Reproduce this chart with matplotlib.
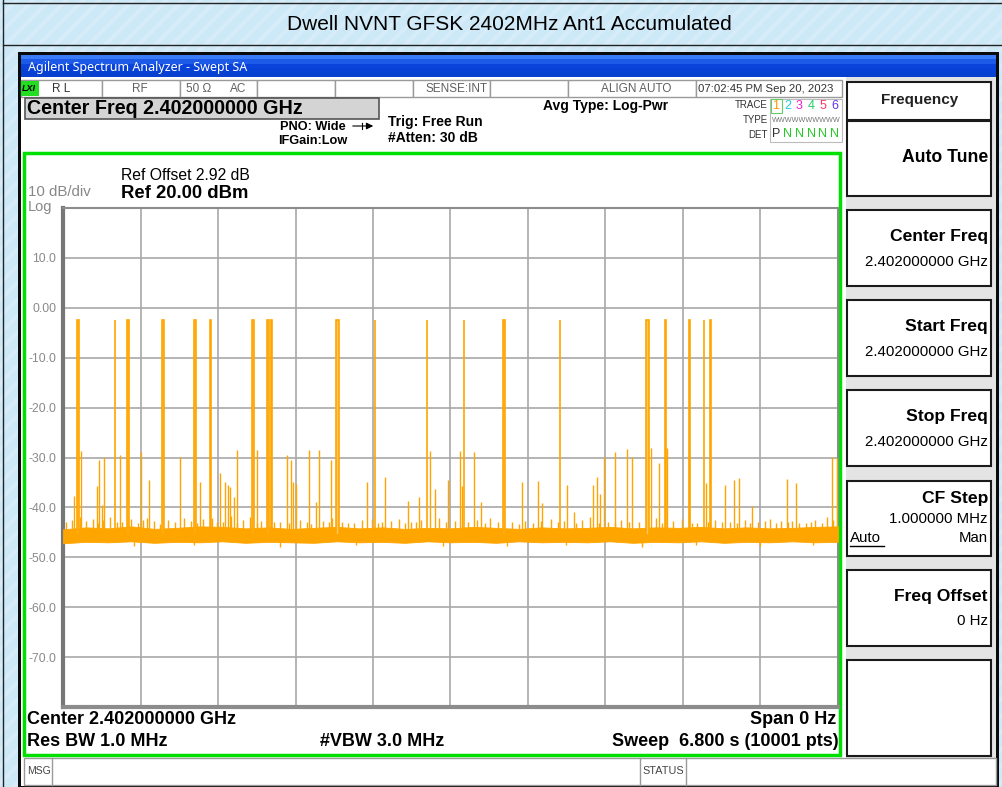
import numpy as np
import matplotlib
matplotlib.use('Agg')
import matplotlib.pyplot as plt
from matplotlib.patches import Rectangle

# zero span trace, time axis in seconds, level in dBm
sweep_time = 6.8
ref_level = 20
y_bottom = -80
ytick_vals = [10, 0, -10, -20, -30, -40, -50, -60, -70]
ytick_text = ['10.0', '0.00', '-10.0', '-20.0', '-30.0', '-40.0', '-50.0', '-60.0', '-70.0']

# full power bursts (start, end, level)
pulse_start = [0.125, 0.452, 0.564, 0.872, 1.147, 1.289, 1.656, 1.787, 1.828, 2.395,
               2.734, 3.190, 3.515, 3.861, 4.357, 5.115, 5.281, 5.495, 5.620, 5.679]
pulse_end = [0.143, 0.459, 0.582, 0.883, 1.164, 1.296, 1.679, 1.805, 1.835, 2.419,
             2.741, 3.197, 3.522, 3.881, 4.364, 5.144, 5.288, 5.502, 5.627, 5.686]
pulse_level = [-2.5, -2.5, -2.5, -2.5, -2.5, -2.5, -2.5, -2.5, -2.5, -2.5,
               -2.5, -2.5, -2.5, -2.5, -2.5, -2.5, -2.5, -2.5, -2.5, -2.5]

# weaker single spikes
spike_t = [0.099, 0.158, 0.301, 0.313, 0.345, 0.357, 0.500, 0.682, 0.757, 1.024,
           1.199, 1.380, 1.421, 1.448, 1.465, 1.500, 1.527, 1.702, 1.822, 1.963,
           2.003, 2.021, 2.044, 2.161, 2.220, 2.246, 2.349, 2.665, 2.825, 3.024,
           3.126, 3.220, 3.264, 3.381, 3.483, 3.498, 3.606, 3.665, 4.025, 4.165,
           4.205, 4.425, 4.484, 4.648, 4.683, 4.709, 4.747, 4.846, 4.949, 4.990,
           5.159, 5.227, 5.302, 5.490, 5.644, 5.806, 5.885, 5.929, 6.043, 6.350,
           6.429, 6.745, 6.789]
spike_level = [-37.7, -28.7, -35.7, -30.5, -39.5, -29.8, -29.4, -28.8, -34.5, -29.8,
               -34.9, -33.2, -35.0, -35.5, -36.0, -38.0, -28.4, -28.4, -35.4, -29.4,
               -30.5, -34.9, -35.3, -28.4, -39.0, -28.4, -30.5, -34.9, -33.9, -38.8,
               -38.0, -28.7, -36.4, -34.6, -28.6, -35.7, -28.8, -39.0, -34.9, -34.8,
               -39.2, -35.5, -41.0, -35.5, -33.9, -37.4, -29.8, -28.8, -28.2, -29.8,
               -28.0, -31.1, -28.0, -29.4, -35.1, -35.5, -34.6, -34.2, -39.8, -34.4,
               -35.2, -29.8, -30.0]

# noise floor envelope
floor_t = [0.0, 0.2, 0.4, 0.6, 0.8, 1.0, 1.2, 1.4, 1.6, 1.8, 2.0, 2.2, 2.4, 2.6, 2.8,
           3.0, 3.2, 3.4, 3.6, 3.8, 4.0, 4.2, 4.4, 4.6, 4.8, 5.0, 5.2, 5.4, 5.6, 5.8,
           6.0, 6.2, 6.4, 6.6, 6.8]
floor_top = [-44.4, -44.0, -44.2, -43.8, -44.3, -44.1, -43.8, -43.9, -44.2, -44.0,
             -44.3, -44.1, -43.9, -44.2, -44.0, -44.3, -44.1, -44.2, -43.9, -44.1,
             -44.3, -44.0, -44.2, -44.1, -43.9, -44.2, -44.0, -44.1, -43.9, -44.2,
             -44.0, -44.2, -44.1, -43.9, -43.8]
floor_bot = [-47.2, -46.9, -47.0, -46.8, -47.1, -46.9, -47.0, -46.8, -47.1, -46.9,
             -47.0, -47.1, -46.8, -47.0, -46.9, -47.1, -46.8, -47.0, -46.9, -47.1,
             -46.8, -47.0, -46.9, -47.0, -46.8, -47.1, -46.9, -47.0, -46.8, -47.1,
             -46.9, -47.0, -46.8, -47.0, -46.9]

# small bristles on the floor
bump_t = [0.03, 0.08, 0.15, 0.20, 0.26, 0.31, 0.35, 0.41, 0.47, 0.52, 0.60, 0.66,
          0.70, 0.74, 0.80, 0.85, 0.92, 0.98, 1.06, 1.12, 1.18, 1.23, 1.31, 1.35,
          1.40, 1.47, 1.53, 1.58, 1.64, 1.70, 1.74, 1.85, 1.90, 1.98, 2.08, 2.14,
          2.18, 2.28, 2.33, 2.36, 2.45, 2.50, 2.55, 2.62, 2.71, 2.76, 2.80, 2.88,
          2.95, 3.00, 3.05, 3.10, 3.14, 3.30, 3.36, 3.44, 3.55, 3.63, 3.70, 3.75,
          3.82, 3.94, 4.00, 4.05, 4.12, 4.19, 4.28, 4.34, 4.40, 4.50, 4.55, 4.62,
          4.70, 4.78, 4.84, 4.90, 4.97, 5.05, 5.12, 5.20, 5.26, 5.35, 5.43, 5.52,
          5.56, 5.66, 5.72, 5.78, 5.85, 5.91, 5.98, 6.03, 6.10, 6.16, 6.20, 6.26,
          6.30, 6.36, 6.40, 6.46, 6.52, 6.56, 6.60, 6.66, 6.70, 6.76]
bump_level = [-43.0, -42.5, -42.0, -42.8, -42.3, -43.2, -42.6, -42.0, -43.0, -42.9,
              -42.4, -43.1, -42.6, -42.2, -42.7, -43.3, -42.5, -43.0, -42.1, -42.8,
              -43.2, -42.4, -42.2, -43.0, -42.9, -41.8, -43.1, -42.6, -42.0, -43.2,
              -42.7, -42.9, -43.0, -43.2, -42.5, -43.0, -43.3, -42.8, -43.0, -42.2,
              -42.9, -43.2, -43.1, -42.6, -42.4, -43.1, -43.0, -42.7, -42.3, -43.2,
              -42.9, -43.0, -42.5, -42.2, -43.0, -42.8, -43.0, -42.6, -43.2, -42.1,
              -43.0, -42.9, -43.3, -42.7, -43.1, -42.8, -42.4, -43.0, -42.8, -43.2,
              -42.5, -42.0, -43.1, -42.9, -43.2, -42.6, -43.0, -43.0, -42.7, -42.2,
              -43.1, -42.8, -42.4, -43.2, -43.1, -42.9, -42.5, -43.0, -42.9, -43.1,
              -42.6, -43.2, -43.0, -42.7, -42.3, -43.1, -42.8, -43.0, -42.7, -43.2,
              -43.2, -42.9, -42.5, -43.1, -42.0, -42.6]
dip_t = [0.62, 1.15, 1.90, 2.57, 3.33, 3.90, 4.41, 5.08, 5.55, 6.12, 6.58]
dip_level = [-47.8, -47.6, -47.9, -47.5, -47.7, -47.8, -47.6, -47.9, -47.5, -47.7, -47.6]

trace_color = '#ffa500'
plt.rcParams['font.family'] = ['Liberation Sans', 'DejaVu Sans']
plt.rcParams['hatch.linewidth'] = 3

fig = plt.figure(figsize=(10.03, 7.87), dpi=100)
bg = fig.add_axes([0, 0, 1, 1])
bg.set_xlim(0, 1003)
bg.set_ylim(787, 0)
bg.axis('off')


def box(x0, y0, x1, y1, fc='white', ec='none', lw=1, z=1, **kw):
    bg.add_patch(Rectangle((x0, y0), x1 - x0, y1 - y0, facecolor=fc, edgecolor=ec,
                           linewidth=lw, zorder=z, **kw))


def txt(x, y, s, size=9, ha='left', color='black', weight='normal', z=5, **kw):
    bg.text(x, y, s, fontsize=size, ha=ha, va='center', color=color,
            fontweight=weight, zorder=z, **kw)


# page background
box(0, 0, 1003, 787, fc='#cde8f6', ec='#d6edf9', lw=0, z=0, hatch='//')
bg.plot([3, 3], [0, 787], color='#222222', lw=1, zorder=1)
bg.plot([3, 1003], [3, 3], color='#222222', lw=1, zorder=1)
bg.plot([3, 1003], [45, 45], color='#222222', lw=1, zorder=1)
txt(509, 24, 'Dwell NVNT GFSK 2402MHz Ant1 Accumulated', size=15, ha='center')

# analyzer window
box(18, 52, 999, 787, fc='#0a0a0a', z=1)
grad = np.array([[0.0], [0.3], [0.6], [0.8], [1.0]])
bg.imshow(grad, cmap=matplotlib.colors.LinearSegmentedColormap.from_list(
    'bar', ['#3a7cf7', '#0a44de', '#0840d0']), extent=(21, 996, 77, 55),
    aspect='auto', zorder=2)
txt(28, 67, 'Agilent Spectrum Analyzer - Swept SA', size=9, color='white', family='Noto Sans')
box(21, 77, 846, 786, fc='white', z=2)
box(846, 77, 996, 786, fc='#e4e4e4', z=2)

# status row
cells = [21, 102, 180, 257, 335, 413, 490, 568, 696, 842]
for a, b in zip(cells[:-1], cells[1:]):
    box(a, 80, b, 97, fc='white', ec='#9a9a9a', lw=1, z=3)
box(21, 81, 39, 96, fc='#22dd22', z=4)
txt(21.5, 88.5, 'LXI', size=6.5, weight='bold', style='italic')
gray = '#606060'
txt(52, 88.5, 'R L', size=8.5, color='#333333')
txt(140, 88.5, 'RF', size=8.5, color=gray, ha='center')
txt(186, 88.5, '50 Ω', size=8.5, color=gray)
txt(230, 88.5, 'AC', size=8.5, color=gray)
txt(488, 88.5, 'SENSE:INT', size=8.5, color=gray, ha='right')
txt(636, 88.5, 'ALIGN AUTO', size=8.5, color=gray, ha='center')
txt(698, 88.5, '07:02:45 PM Sep 20, 2023', size=8.2, color='#333333')

# center freq header
box(25, 98, 379, 119, fc='#d4d4d4', ec='#555555', lw=1.2, z=3)
txt(27, 108.5, 'Center Freq 2.402000000 GHz', size=14.2, weight='bold')
txt(280, 127, 'PNO: Wide', size=9.2, weight='bold')
bg.annotate('', xy=(376, 126), xytext=(350, 126),
            arrowprops=dict(arrowstyle='-|>', color='black', lw=0.8), zorder=5)
bg.plot([362, 362], [123, 129], color='black', lw=0.8, zorder=5)
txt(278, 141, 'IFGain:Low', size=9.2, weight='bold')
txt(388, 122, 'Trig: Free Run', size=10, weight='bold')
txt(388, 138, '#Atten: 30 dB', size=10, weight='bold')
txt(543, 106, 'Avg Type: Log-Pwr', size=10, weight='bold')

# trace legend block
txt(768, 105, 'TRACE', size=7, color='#333333', ha='right')
txt(768, 120, 'TYPE', size=7, color='#333333', ha='right')
txt(768, 135, 'DET', size=7, color='#333333', ha='right')
box(770, 99, 842, 142, fc='white', ec='#bbbbbb', lw=0.8, z=3)
box(771, 99, 782, 113, fc='none', ec='#66cc66', lw=0.8, z=4)
trace_cols = ['#ff9900', '#22ccdd', '#ee22cc', '#22cc66', '#ff3366', '#6633ee']
for i, c in enumerate(trace_cols):
    txt(776 + i * 11.7, 106, str(i + 1), size=9, color=c, ha='center')
txt(772, 120, 'W' + 'W' * 9, size=5.2, color='#777777')
txt(776, 134, 'P', size=9, color='#333333', ha='center')
for i in range(1, 6):
    txt(776 + i * 11.7, 134, 'N', size=9, color='#22cc22', ha='center')

# graticule region
box(24, 153, 840, 755, fc='white', ec='#00e000', lw=2.5, z=3)
txt(121, 176, 'Ref Offset 2.92 dB', size=11.3)
txt(121, 193, 'Ref 20.00 dBm', size=13.3, weight='bold')
txt(28, 192, '10 dB/div', size=10.8, color='#888888')
txt(28, 207, 'Log', size=10.5, color='#888888')

txt(27, 719, 'Center 2.402000000 GHz', size=13, weight='bold')
txt(836, 719, 'Span 0 Hz', size=13, weight='bold', ha='right')
txt(27, 741, 'Res BW 1.0 MHz', size=13, weight='bold')
txt(320, 741, '#VBW 3.0 MHz', size=13, weight='bold')
txt(839, 741, 'Sweep  6.800 s (10001 pts)', size=13, weight='bold', ha='right')

# msg row
box(24, 758, 996, 785, fc='white', ec='#9a9a9a', lw=1, z=3)
bg.plot([52, 52], [758, 785], color='#9a9a9a', lw=1, zorder=4)
bg.plot([640, 640], [758, 785], color='#9a9a9a', lw=1, zorder=4)
bg.plot([686, 686], [758, 785], color='#9a9a9a', lw=1, zorder=4)
txt(27, 771, 'MSG', size=7.5, color='#444444')
txt(642, 771, 'STATUS', size=7.8, color='#444444')

# softkey panel
keys = [(82, 120), (121, 196), (210, 286), (300, 376), (390, 466), (481, 556), (570, 646), (660, 756)]
for y0, y1 in keys:
    box(847, y0, 991, y1, fc='white', ec='#1a1a1a', lw=1.5, z=3)
txt(920, 100, 'Frequency', size=11, weight='bold', ha='center', color='#222222')
txt(988, 158, 'Auto Tune', size=12.7, weight='bold', ha='right')
key_titles = ['Center Freq', 'Start Freq', 'Stop Freq']
for (y0, y1), name in zip(keys[2:5], key_titles):
    txt(988, y0 + 27, name, size=12.6, weight='bold', ha='right')
    txt(988, y0 + 52, '2.402000000 GHz', size=10.8, ha='right')
txt(988, 499, 'CF Step', size=12.6, weight='bold', ha='right')
txt(988, 519, '1.000000 MHz', size=10.8, ha='right')
txt(850, 538, 'Auto', size=10.8)
bg.plot([850, 884], [546, 546], color='black', lw=1, zorder=5)
txt(988, 538, 'Man', size=10.8, ha='right')
txt(988, 596, 'Freq Offset', size=12.6, weight='bold', ha='right')
txt(988, 621, '0 Hz', size=10.8, ha='right')

# trace axes
ax = fig.add_axes([63 / 1003, 1 - 707 / 787, 775 / 1003, 499 / 787])
ax.set_zorder(6)
ax.set_xlim(0, sweep_time)
ax.set_ylim(y_bottom, ref_level)
ax.set_xticks(np.linspace(0, sweep_time, 11))
ax.set_xticklabels([])
ax.set_yticks(ytick_vals)
ax.set_yticklabels(ytick_text)
ax.tick_params(length=0, labelsize=8.8, labelcolor='#8a8a8a', pad=5)
ax.grid(True, color='#a8a8a8', lw=1.2)
ax.set_axisbelow(True)
for s in ax.spines.values():
    s.set_color('#8c8c8c')
    s.set_linewidth(1.5)
ax.spines['left'].set_linewidth(3)
ax.spines['bottom'].set_linewidth(3)
ax.spines['left'].set_color('#777777')

ax.fill_between(floor_t, floor_bot, floor_top, color=trace_color, lw=0.6, zorder=3)
ax.vlines(bump_t, -45.5, bump_level, color=trace_color, lw=1, zorder=3)
ax.vlines(dip_t, -45.5, dip_level, color=trace_color, lw=1, zorder=3)
ax.vlines(spike_t, -45.5, spike_level, color=trace_color, lw=1, zorder=3)
widths = [e - s for s, e in zip(pulse_start, pulse_end)]
heights = [lv + 45.5 for lv in pulse_level]
ax.bar(pulse_start, heights, width=widths, bottom=-45.5, align='edge',
       facecolor='#ffc866', edgecolor=trace_color, linewidth=1.2, zorder=3)

fig.savefig('out.png', dpi=100)
